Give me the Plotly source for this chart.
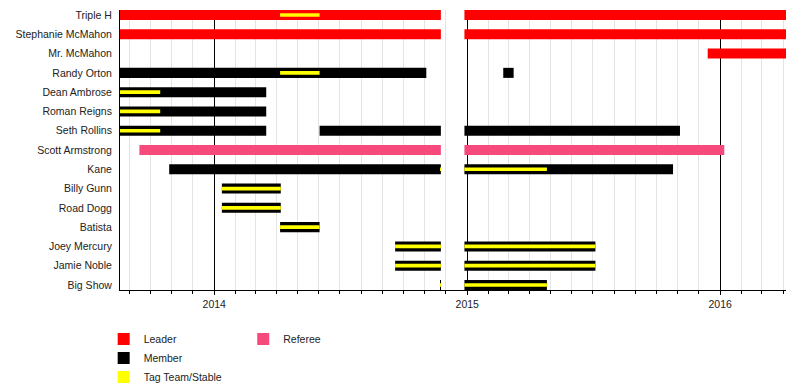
import plotly.graph_objects as go
import pandas as pd

# ---- data ----
rows = ["Triple H", "Stephanie McMahon", "Mr. McMahon", "Randy Orton", "Dean Ambrose",
        "Roman Reigns", "Seth Rollins", "Scott Armstrong", "Kane", "Billy Gunn",
        "Road Dogg", "Batista", "Joey Mercury", "Jamie Noble", "Big Show"]

period_start = "2013-08-18"
period_end = "2016-04-05"

leader_names = ["Triple H", "Triple H", "Stephanie McMahon", "Stephanie McMahon", "Mr. McMahon"]
leader_start = ["2013-08-18", "2014-12-28", "2013-08-18", "2014-12-28", "2015-12-14"]
leader_end = ["2014-11-24", "2016-04-05", "2014-11-24", "2016-04-05", "2016-04-05"]

member_names = ["Randy Orton", "Randy Orton", "Dean Ambrose", "Roman Reigns",
                "Seth Rollins", "Seth Rollins", "Seth Rollins", "Kane", "Kane",
                "Billy Gunn", "Road Dogg", "Batista", "Joey Mercury", "Joey Mercury",
                "Jamie Noble", "Jamie Noble", "Big Show", "Big Show"]
member_start = ["2013-08-18", "2015-02-22", "2013-08-18", "2013-08-18",
                "2013-08-18", "2014-06-02", "2014-12-28", "2013-10-28", "2014-12-28",
                "2014-01-12", "2014-01-12", "2014-04-06", "2014-09-19", "2014-12-28",
                "2014-09-19", "2014-12-28", "2014-11-23", "2014-12-28"]
member_end = ["2014-11-03", "2015-03-09", "2014-03-17", "2014-03-17",
              "2014-03-17", "2014-11-24", "2015-11-04", "2014-11-24", "2015-10-25",
              "2014-04-07", "2014-04-07", "2014-06-02", "2014-11-24", "2015-07-05",
              "2014-11-24", "2015-07-05", "2014-11-24", "2015-04-26"]

referee_names = ["Scott Armstrong", "Scott Armstrong"]
referee_start = ["2013-09-15", "2014-12-28"]
referee_end = ["2014-11-24", "2016-01-07"]

tag_names = ["Triple H", "Randy Orton", "Dean Ambrose", "Roman Reigns", "Seth Rollins",
             "Kane", "Kane", "Billy Gunn", "Road Dogg", "Batista",
             "Joey Mercury", "Joey Mercury", "Jamie Noble", "Jamie Noble",
             "Big Show", "Big Show"]
tag_start = ["2014-04-06", "2014-04-06", "2013-08-18", "2013-08-18", "2013-08-18",
             "2014-11-23", "2014-12-28", "2014-01-12", "2014-01-12", "2014-04-06",
             "2014-09-19", "2014-12-28", "2014-09-19", "2014-12-28",
             "2014-11-23", "2014-12-28"]
tag_end = ["2014-06-02", "2014-06-02", "2013-10-15", "2013-10-15", "2013-10-15",
           "2014-11-24", "2015-04-26", "2014-04-07", "2014-04-07", "2014-06-02",
           "2014-11-24", "2015-07-05", "2014-11-24", "2015-07-05",
           "2014-11-24", "2015-04-26"]

year_ticks = ["2014-01-01", "2015-01-01", "2016-01-01"]
year_labels = ["2014", "2015", "2016"]

FONT = "Liberation Sans, Arial, Helvetica, sans-serif"


def durations(starts, ends):
    s = pd.to_datetime(starts)
    e = pd.to_datetime(ends)
    return [(b - a).total_seconds() * 1000 for a, b in zip(s, e)]


fig = go.Figure()

def add(names, starts, ends, color, label, width, legend="legend"):
    fig.add_trace(go.Bar(
        y=names, x=durations(starts, ends), base=starts, orientation="h",
        marker=dict(color=color, line=dict(width=0)), width=width,
        name=label, legend=legend, hoverinfo="skip"))

add(leader_names, leader_start, leader_end, "#ff0000", "Leader", 0.52)
add(member_names, member_start, member_end, "#000000", "Member", 0.52)
add(referee_names, referee_start, referee_end, "#f64a7c", "Referee", 0.52, "legend2")
add(tag_names, tag_start, tag_end, "#ffff00", "Tag Team/Stable", 0.19)

# page body has an 8px default margin, so the figure is 792x382 and offset by 8px
fig.update_layout(
    width=792, height=382,
    margin=dict(l=112, r=14, t=2, b=100, autoexpand=False),
    paper_bgcolor="white", plot_bgcolor="white",
    barmode="overlay",
    font=dict(family=FONT, size=11, color="#222"),
    showlegend=True,
    legend=dict(x=-0.0245, y=-0.123, xanchor="left", yanchor="top",
                orientation="v", font=dict(size=10.5, color="#222"),
                bgcolor="rgba(0,0,0,0)", tracegroupgap=0, traceorder="normal"),
    legend2=dict(x=0.185, y=-0.123, xanchor="left", yanchor="top",
                 orientation="v", font=dict(size=10.5, color="#222"),
                 bgcolor="rgba(0,0,0,0)"),
)

fig.update_xaxes(
    type="date", range=[period_start, period_end], automargin=False,
    tickmode="array", tickvals=year_ticks, ticktext=year_labels,
    ticks="outside", ticklen=4, tickcolor="black", tickwidth=1,
    showgrid=True, gridcolor="black", gridwidth=1,
    showline=True, linecolor="black", linewidth=1,
    tickfont=dict(size=10.5, color="#222"),
    minor=dict(dtick="M1", tick0="2014-01-01", showgrid=True, gridcolor="#e4e4e4",
               gridwidth=1, ticks="outside", ticklen=3, tickcolor="black"),
    zeroline=False, fixedrange=True,
)

fig.update_yaxes(
    type="category", categoryorder="array", categoryarray=rows,
    range=[14.26, -0.26], automargin=False,
    showgrid=False, zeroline=False,
    showline=True, linecolor="black", linewidth=1,
    ticks="", ticklabelstandoff=5,
    tickfont=dict(size=10.5, color="#222"),
)

fig.write_html("out.html")
